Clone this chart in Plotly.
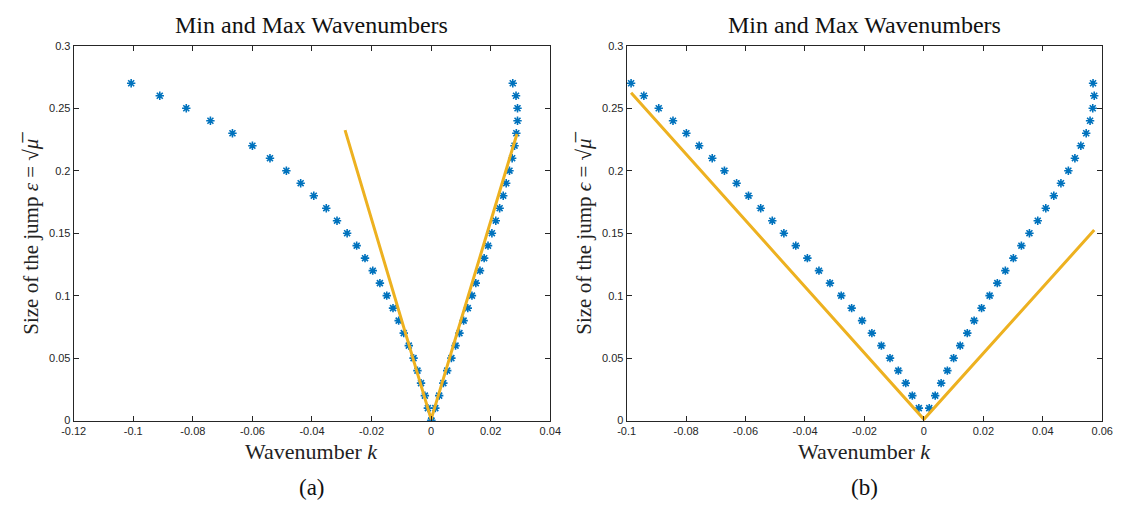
import plotly.graph_objects as go

# ---------- data: panel (a) ----------
eps_a_left = [0.27, 0.26, 0.25, 0.24, 0.23, 0.22, 0.21, 0.20, 0.19, 0.18, 0.17, 0.16, 0.15, 0.14,
              0.13, 0.12, 0.11, 0.10, 0.09, 0.08, 0.07, 0.06, 0.05, 0.04, 0.03, 0.02, 0.01, 0.00]
k_a_left = [-0.1007, -0.0911, -0.0822, -0.0741, -0.0667, -0.0600, -0.0541, -0.0486, -0.0438,
            -0.0394, -0.0352, -0.0316, -0.0282, -0.0250, -0.0222, -0.0196, -0.0172, -0.0149,
            -0.0128, -0.0109, -0.0092, -0.0075, -0.0059, -0.0046, -0.0034, -0.0021, -0.0011, 0.0000]
eps_a_right = [0.00, 0.01, 0.02, 0.03, 0.04, 0.05, 0.06, 0.07, 0.08, 0.09, 0.10, 0.11, 0.12, 0.13,
               0.14, 0.15, 0.16, 0.17, 0.18, 0.19, 0.20, 0.21, 0.22, 0.23, 0.24, 0.25, 0.26, 0.27]
k_a_right = [0.0001, 0.0014, 0.0027, 0.0041, 0.0054, 0.0068, 0.0082, 0.0095, 0.0109, 0.0123,
             0.0137, 0.0150, 0.0164, 0.0178, 0.0191, 0.0204, 0.0217, 0.0230, 0.0242, 0.0252,
             0.0263, 0.0272, 0.0280, 0.0286, 0.0290, 0.0290, 0.0285, 0.0274]
line_a_k = [-0.0289, 0.0, 0.0288]
line_a_eps = [0.2325, 0.001, 0.2294]

# ---------- data: panel (b) ----------
eps_b_left = [0.27, 0.26, 0.25, 0.24, 0.23, 0.22, 0.21, 0.20, 0.19, 0.18, 0.17, 0.16, 0.15, 0.14,
              0.13, 0.12, 0.11, 0.10, 0.09, 0.08, 0.07, 0.06, 0.05, 0.04, 0.03, 0.02, 0.01]
k_b_left = [-0.0985, -0.0942, -0.0892, -0.0844, -0.0799, -0.0756, -0.0712, -0.0671, -0.0630,
            -0.0590, -0.0549, -0.0510, -0.0471, -0.0431, -0.0392, -0.0353, -0.0316, -0.0278,
            -0.0243, -0.0208, -0.0175, -0.0143, -0.0114, -0.0086, -0.0061, -0.0039, -0.0017]
eps_b_right = [0.01, 0.02, 0.03, 0.04, 0.05, 0.06, 0.07, 0.08, 0.09, 0.10, 0.11, 0.12, 0.13,
               0.14, 0.15, 0.16, 0.17, 0.18, 0.19, 0.20, 0.21, 0.22, 0.23, 0.24, 0.25, 0.26, 0.27]
k_b_right = [0.0018, 0.0038, 0.0058, 0.0079, 0.0100, 0.0122, 0.0146, 0.0169, 0.0194, 0.0221,
             0.0247, 0.0274, 0.0301, 0.0328, 0.0355, 0.0383, 0.0410, 0.0437, 0.0461, 0.0486,
             0.0508, 0.0528, 0.0546, 0.0559, 0.0568, 0.0573, 0.0569]
line_b_k = [-0.0985, 0.0, 0.0573]
line_b_eps = [0.2623, 0.001, 0.1525]

# ---------- tick labels ----------
xtick_a_vals = [-0.12, -0.10, -0.08, -0.06, -0.04, -0.02, 0.0, 0.02, 0.04]
xtick_a_text = ["-0.12", "-0.1", "-0.08", "-0.06", "-0.04", "-0.02", "0", "0.02", "0.04"]
xtick_b_vals = [-0.10, -0.08, -0.06, -0.04, -0.02, 0.0, 0.02, 0.04, 0.06]
xtick_b_text = ["-0.1", "-0.08", "-0.06", "-0.04", "-0.02", "0", "0.02", "0.04", "0.06"]
ytick_vals = [0.0, 0.05, 0.10, 0.15, 0.20, 0.25, 0.30]
ytick_text = ["0", "0.05", "0.1", "0.15", "0.2", "0.25", "0.3"]

title_text = "Min and Max Wavenumbers"
xlabel = "Wavenumber <i>k</i>"
ylabel_a = "Size of the jump <i>ε</i> = √<i>μ̅</i>"
ylabel_b = "Size of the jump <i>ϵ</i> = √<i>μ̅</i>"
panel_tags = ["(a)", "(b)"]

BLUE = "#0072BD"
ORANGE = "#EDB120"
AX = "#262626"
SERIF = "Liberation Serif, DejaVu Serif, serif"
SANS = "Liberation Sans, Arial, sans-serif"

fig = go.Figure()

def stars(x, y, xa, ya):
    fig.add_trace(go.Scatter(x=x, y=y, mode="markers", xaxis=xa, yaxis=ya,
                             marker=dict(symbol="asterisk", size=7,
                                         line=dict(color=BLUE, width=1.6)),
                             showlegend=False, hoverinfo="skip"))

def vline(x, y, xa, ya):
    fig.add_trace(go.Scatter(x=x, y=y, mode="lines", xaxis=xa, yaxis=ya,
                             line=dict(color=ORANGE, width=3),
                             showlegend=False, hoverinfo="skip"))

stars(k_a_left, eps_a_left, "x", "y")
stars(k_a_right, eps_a_right, "x", "y")
vline(line_a_k, line_a_eps, "x", "y")
stars(k_b_left, eps_b_left, "x2", "y2")
stars(k_b_right, eps_b_right, "x2", "y2")
vline(line_b_k, line_b_eps, "x2", "y2")

W, H = 1125, 506
dom_a = [62 / W, 549 / W]
dom_b = [627 / W, 1113 / W]
dom_y = [1 - 424.7 / H, 1 - 40.7 / H]

axis_common = dict(showline=True, linecolor=AX, linewidth=1, mirror="ticks",
                   ticks="inside", ticklen=5, tickcolor=AX, showgrid=False,
                   zeroline=False, tickfont=dict(family=SANS, size=11, color=AX))

fig.update_layout(
    width=W, height=H,
    margin=dict(l=0, r=0, t=0, b=0),
    paper_bgcolor="white", plot_bgcolor="white",
    xaxis=dict(domain=dom_a, range=[-0.12, 0.04], tickvals=xtick_a_vals, ticktext=xtick_a_text,
               anchor="y", **axis_common),
    yaxis=dict(domain=dom_y, range=[0, 0.3], tickvals=ytick_vals, ticktext=ytick_text,
               anchor="x", **axis_common),
    xaxis2=dict(domain=dom_b, range=[-0.1, 0.06], tickvals=xtick_b_vals, ticktext=xtick_b_text,
                anchor="y2", **axis_common),
    yaxis2=dict(domain=dom_y, range=[0, 0.3], tickvals=ytick_vals, ticktext=ytick_text,
                anchor="x2", **axis_common),
)

ann = []
for dom, yl, tag in [(dom_a, ylabel_a, panel_tags[0]), (dom_b, ylabel_b, panel_tags[1])]:
    cx = (dom[0] + dom[1]) / 2
    ann.append(dict(text=title_text, x=cx, y=1 - 19 / H, xref="paper", yref="paper",
                    showarrow=False, font=dict(family=SERIF, size=24, color="#111"),
                    xanchor="center", yanchor="middle"))
    ann.append(dict(text=xlabel, x=cx, y=1 - 456 / H, xref="paper", yref="paper",
                    showarrow=False, font=dict(family=SERIF, size=22, color="#222"),
                    xanchor="center", yanchor="middle"))
    ann.append(dict(text=tag, x=cx, y=1 - 493 / H, xref="paper", yref="paper",
                    showarrow=False, font=dict(family=SERIF, size=23, color="#111"),
                    xanchor="center", yanchor="middle"))
    ann.append(dict(text=yl, x=dom[0] - 43 / W, y=(dom_y[0] + dom_y[1]) / 2,
                    xref="paper", yref="paper", textangle=-90,
                    showarrow=False, font=dict(family=SERIF, size=21, color="#222"),
                    xanchor="center", yanchor="middle"))
fig.update_layout(annotations=ann)

fig.write_html("out.html", config={"displayModeBar": False},
               post_script="document.body.style.margin='0';document.body.style.overflow='hidden';")
